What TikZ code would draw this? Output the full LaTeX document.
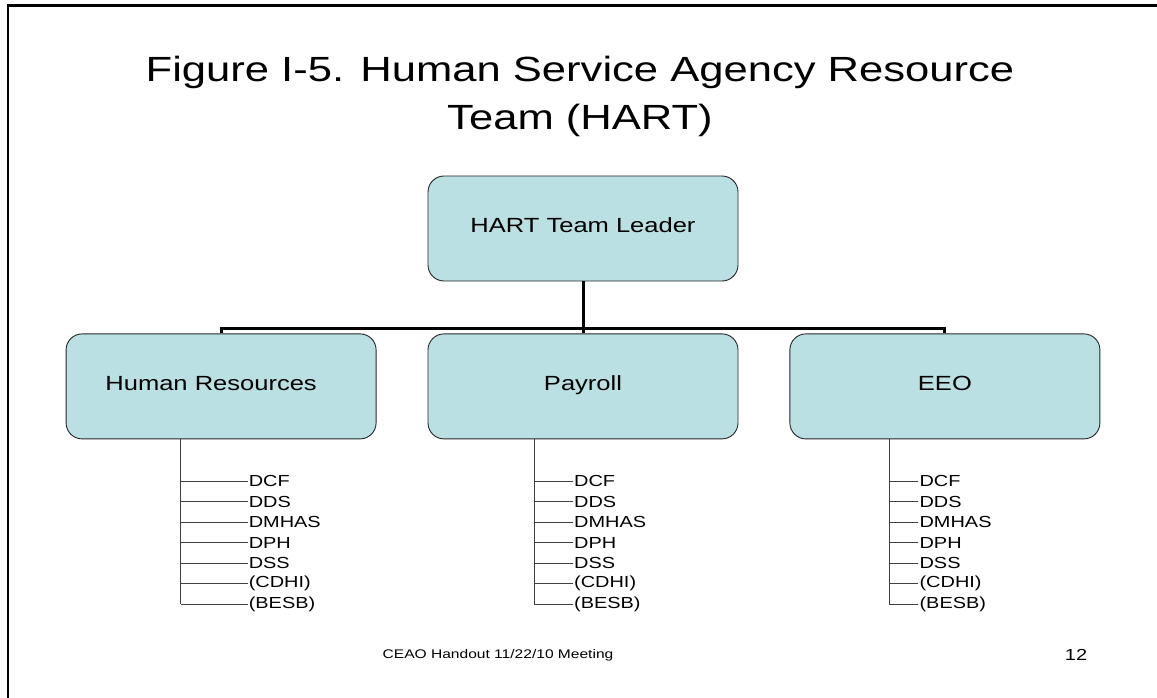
\documentclass[tikz,border=0pt]{standalone}
\usepackage{fontspec}
\setmainfont{Liberation Sans}[FakeStretch=1.245]
\usetikzlibrary{positioning,calc}
\definecolor{boxfill}{HTML}{BBE0E3}
\tikzset{
    x=1pt,y=-1pt,
    unit/.style ={rectangle, rounded corners=16pt, draw=black!85, fill=boxfill, line width=0.9pt,
                  minimum width=310pt, minimum height=105pt, text height=0.86em, text depth=0pt,
                  font=\fontsize{20.5}{24}\selectfont},
    trunk/.style={line width=3pt},
    twig/.style ={draw=black!75, line width=1pt},
    agency/.style={anchor=west, inner sep=1pt, font=\fontsize{16}{18}\selectfont},
    footer/.style={inner sep=0pt, font=\fontsize{12.5}{15}\selectfont},
    heading/.style={anchor=north, align=center, inner sep=0pt, font=\fontsize{35}{48}\selectfont}
}

\begin{document}
\begin{tikzpicture}
    \useasboundingbox (0,0) rectangle (1157,698);
    % slide frame
    \draw[line width=2.5pt] (8,698) -- (8,5.5) -- (1157,5.5);

    \node[heading] (title) at (580,56) {Figure I-5. Human Service Agency Resource\\Team (HART)};

    \node[unit] (lead) at (583,228.5) {HART Team Leader};
    \node[unit] (pay) [below =52pt of lead] {Payroll};
    \node[unit] (hr) [left =51pt of pay] {Human Resources\kern20pt};
    \node[unit] (eeo) [right =51pt of pay] {EEO};

    % reporting lines
    \coordinate (bus) at ($(pay.north)+(0,-5)$);
    \draw[trunk] (lead) -- (pay);
    \draw[trunk] (hr.north) |- (bus) -| (eeo.north);

    % agencies under each unit
    \foreach \dept/\dx/\len in {hr/-40.5/67, pay/-49/39, eeo/-55.5/29}{
        \coordinate (\dept-root) at ($(\dept.south)+(\dx,0)$);
        \foreach \name [count=\i] in {DCF,DDS,DMHAS,DPH,DSS,{(CDHI)},{(BESB)}}{
            \node[agency] (\dept-\i) at ($(\dept-root)+(\len,21.5+20.5*\i)$) {\name};
            \draw[twig] (\dept-\i.west) -- (\dept-\i.west -| \dept-root);
        }
        \draw[twig] (\dept-root) -- (\dept-root |- \dept-7.west);
    }

    \node[footer] (handout) at (498,655) {CEAO Handout 11/22/10 Meeting};
    \node[footer, font=\fontsize{16}{18}\selectfont] (slideno) at (1076,655) {12};
\end{tikzpicture}
\end{document}
